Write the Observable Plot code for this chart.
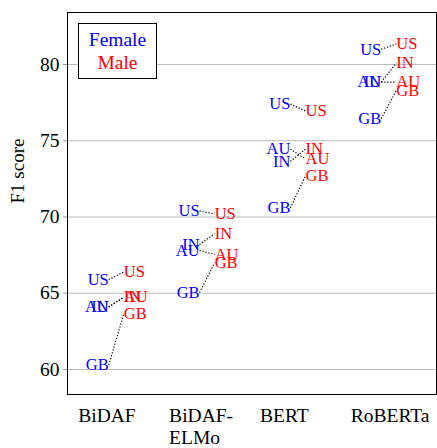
<!DOCTYPE html>
<html><head><meta charset="utf-8">
<script src="https://cdn.jsdelivr.net/npm/d3@7"></script>
<script src="https://cdn.jsdelivr.net/npm/@observablehq/plot@0.6"></script>
<style>
body{margin:0;background:#fff;}
#wrap{position:relative;width:437px;height:448px;font-family:"Liberation Serif","Times New Roman",serif;}
#legend{position:absolute;left:78px;top:23px;width:79px;height:56px;box-sizing:border-box;border:1.3px solid #000;background:#fff;text-align:center;font-size:19.5px;line-height:23px;padding-top:4px;}
</style>
</head><body>
<div id="wrap"><div id="legend"><div style="color:blue">Female</div><div style="color:red">Male</div></div></div>
<script>
const models = ["BiDAF", "BiDAF-ELMo", "BERT", "RoBERTa"];
const modelLabels = ["BiDAF", "BiDAF-\nELMo", "BERT", "RoBERTa"];
const countries = ["US", "AU", "IN", "GB"];
const femaleUS = [65.9, 70.4, 77.4, 81.0];
const maleUS   = [66.4, 70.2, 76.95, 81.35];
const femaleAU = [64.1, 67.8, 74.45, 78.85];
const maleAU   = [64.75, 67.55, 73.8, 78.85];
const femaleIN = [64.1, 68.2, 73.65, 78.85];
const maleIN   = [64.75, 68.9, 74.45, 80.1];
const femaleGB = [60.3, 65.05, 70.6, 76.45];
const maleGB   = [63.65, 67.0, 72.7, 78.3];
const yTicks = [60, 65, 70, 75, 80];

const F = {US: femaleUS, AU: femaleAU, IN: femaleIN, GB: femaleGB};
const M = {US: maleUS, AU: maleAU, IN: maleIN, GB: maleGB};
const rows = [];
countries.forEach(c => models.forEach((m, i) => rows.push({model: m, i, country: c, female: F[c][i], male: M[c][i]})));
const off = 0.083;
const font = "Liberation Serif, Times New Roman, serif";

const chart = Plot.plot({
  width: 437, height: 448,
  marginLeft: 67, marginRight: 1, marginTop: 12, marginBottom: 54,
  style: {fontFamily: font, background: "white", color: "black", overflow: "visible"},
  x: {domain: [-0.537, 3.525], axis: null},
  y: {domain: [58.36, 83.41], axis: null},
  marks: [
    Plot.gridY(yTicks, {stroke: "#bbb", strokeOpacity: 1}),
    Plot.axisY(yTicks, {tickSize: 4, tickPadding: 4, stroke: "#999", fill: "black", fontSize: 19.5, label: null}),
    Plot.text(["F1 score"], {frameAnchor: "left", rotate: -90, dx: -50, fontSize: 19, fill: "black"}),
    Plot.text(modelLabels, {x: (d, i) => i, text: d => d, frameAnchor: "bottom", textAnchor: "start", lineAnchor: "top", dx: -38, dy: 12, fontSize: 19.5, lineHeight: 1.11, fill: "black"}),
    Plot.link(rows, {x1: d => d.i - off, y1: "female", x2: d => d.i + off, y2: "male", stroke: "black", strokeWidth: 1.2, strokeDasharray: "1.2,1.8"}),
    Plot.text(rows, {x: d => d.i - off, y: "female", text: "country", textAnchor: "end", fill: "blue", fontSize: 16.5}),
    Plot.text(rows, {x: d => d.i + off, y: "male", text: "country", textAnchor: "start", fill: "red", fontSize: 16.5}),
    Plot.frame({stroke: "black", strokeWidth: 1})
  ]
});
document.getElementById("wrap").prepend(chart);
</script>
</body></html>
